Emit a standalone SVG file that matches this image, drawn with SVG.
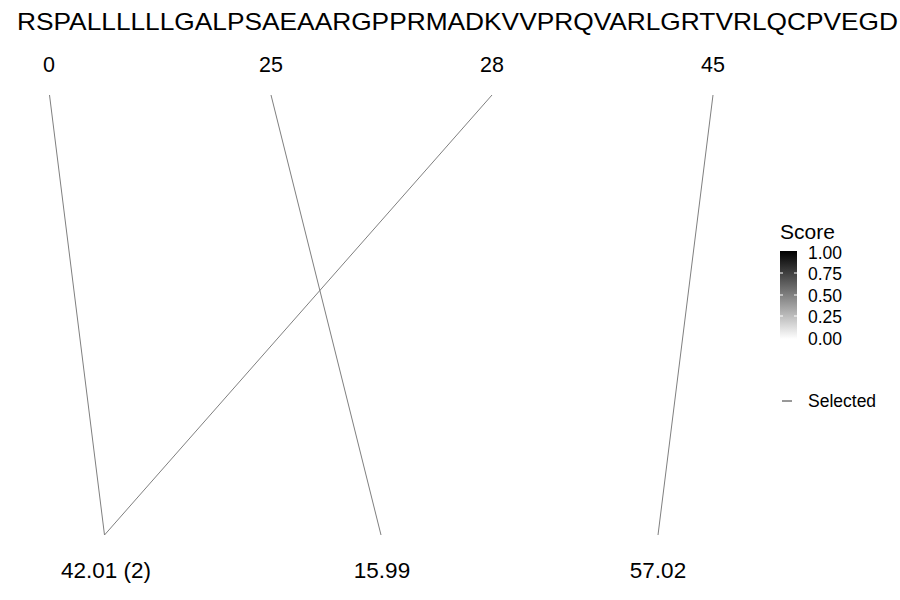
<svg xmlns="http://www.w3.org/2000/svg" width="900" height="600" viewBox="0 0 900 600">
<style>
text{font-family:"Liberation Sans",Arial,sans-serif;fill:#000}
.pos{font-size:21.5px;text-anchor:middle}
.lbl{font-size:22.5px;text-anchor:middle}
.leg{font-size:17.5px}
.conn line{stroke:#7f7f7f;stroke-width:1}
.tick{stroke:#fff;stroke-width:1}
</style>
<defs>
<linearGradient id="g" x1="0" y1="0" x2="0" y2="1">
<stop offset="0" stop-color="#000"/>
<stop offset="1" stop-color="#fff"/>
</linearGradient>
</defs>
<rect width="900" height="600" fill="#fff"/>
<text x="17" y="30" style="font-size:24px" textLength="881" lengthAdjust="spacingAndGlyphs">RSPALLLLLLGALPSAEAARGPPRMADKVVPRQVARLGRTVRLQCPVEGD</text>
<g id="pos0"><text class="pos" x="49" y="72">0</text></g>
<g id="pos25"><text class="pos" x="271" y="72">25</text></g>
<g id="pos28"><text class="pos" x="492" y="72">28</text></g>
<g id="pos45"><text class="pos" x="713" y="72">45</text></g>
<g id="m1"><text class="lbl" x="106" y="578">42.01 (2)</text></g>
<g id="m2"><text class="lbl" x="382" y="578">15.99</text></g>
<g id="m3"><text class="lbl" x="658" y="578">57.02</text></g>
<g id="connectors" class="conn">
<line x1="49.5" y1="95" x2="104.5" y2="535"/>
<line x1="271" y1="95" x2="381" y2="535"/>
<line x1="492" y1="95" x2="104.5" y2="535"/>
<line x1="713" y1="95" x2="658" y2="535"/>
</g>
<g id="legend">
<text x="780" y="239" style="font-size:21px">Score</text>
<rect x="780" y="251" width="17" height="88" fill="url(#g)"/>
<line class="tick" x1="780" y1="273" x2="783" y2="273"/>
<line class="tick" x1="794" y1="273" x2="797" y2="273"/>
<line class="tick" x1="780" y1="295" x2="783" y2="295"/>
<line class="tick" x1="794" y1="295" x2="797" y2="295"/>
<line class="tick" x1="780" y1="316" x2="783" y2="316"/>
<line class="tick" x1="794" y1="316" x2="797" y2="316"/>
<text class="leg" x="808" y="259">1.00</text>
<text class="leg" x="808" y="280">0.75</text>
<text class="leg" x="808" y="302">0.50</text>
<text class="leg" x="808" y="323">0.25</text>
<text class="leg" x="808" y="345">0.00</text>
<line x1="782" y1="401" x2="792" y2="401" stroke="#333" stroke-width="1"/>
<text class="leg" x="808" y="407">Selected</text>
</g>
</svg>
